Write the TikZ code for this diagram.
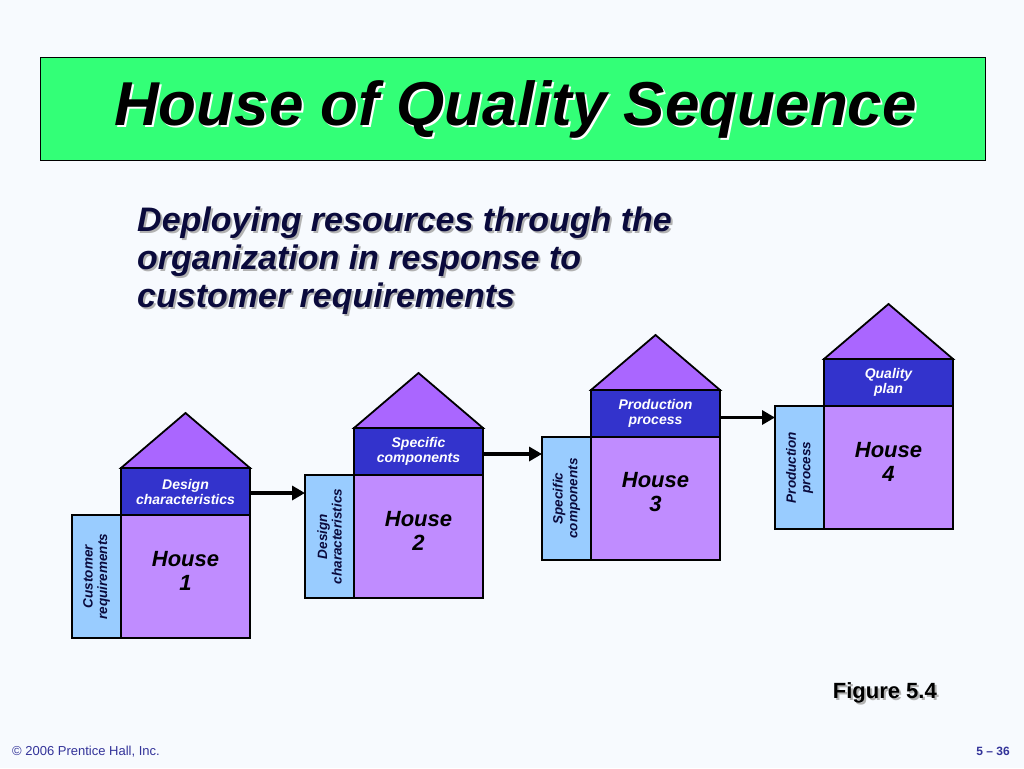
\documentclass[tikz,border=0pt]{standalone}
\usepackage{fontspec}
\setmainfont{Liberation Sans}
\usetikzlibrary{arrows.meta,calc}
\definecolor{bg}{RGB}{247,250,254}
\definecolor{titlegreen}{RGB}{51,255,119}
\definecolor{roofc}{RGB}{170,102,255}
\definecolor{bandc}{RGB}{51,51,204}
\definecolor{mainc}{RGB}{192,140,255}
\definecolor{sidec}{RGB}{153,204,255}
\definecolor{navy}{RGB}{10,10,60}
\definecolor{footc}{RGB}{51,51,153}
\newcommand\qhouse[5]{%
  \node[sidebox] (s#1) at (#2,#3) {};
  \node[mainbox] (m#1) at (s#1.north east) {};
  \node[bandbox] (b#1) at (m#1.north west) {#4};
  \draw[roof] (b#1.north west) -- ($(b#1.north)+(0,55pt)$) -- (b#1.north east) -- cycle;
  \node[sidetext] (t#1) at (s#1.center) {#5};
  \node[housetext] (h#1) at ($(m#1.center)+(0,6pt)$) {House\\#1};
}
\begin{document}
\begin{tikzpicture}[x=1pt,y=-1pt,
  sidebox/.style={draw=black, line width=1.8pt, fill=sidec, minimum width=49pt, minimum height=123pt, inner sep=0pt, outer sep=0pt, anchor=north west},
  mainbox/.style={draw=black, line width=1.8pt, fill=mainc, minimum width=129pt, minimum height=123pt, inner sep=0pt, outer sep=0pt, anchor=north west},
  bandbox/.style={draw=black, line width=1.8pt, fill=bandc, minimum width=129pt, minimum height=47pt, inner sep=0pt, outer sep=0pt, anchor=south west, text=white, align=center, font=\fontsize{14}{15}\selectfont\bfseries\itshape},
  roof/.style={draw=black, line width=1.8pt, fill=roofc, line join=miter},
  sidetext/.style={rotate=90, align=center, text=navy, inner sep=0pt, font=\fontsize{13.5}{14.5}\selectfont\bfseries\itshape},
  housetext/.style={align=center, text=black, inner sep=0pt, font=\fontsize{22}{24}\selectfont\bfseries\itshape},
  arr/.style={-{Triangle[length=13pt,width=14pt]}, line width=3.5pt, black}
]
\useasboundingbox (0,0) rectangle (1024,768);
\fill[bg] (0,0) rectangle (1024,768);
% title
\node[draw=black, line width=1pt, fill=titlegreen, minimum width=945pt, minimum height=103pt, anchor=north west, inner sep=0pt] (tbox) at (40,57) {};
\node[text=white, font=\fontsize{62}{64}\selectfont\bfseries\itshape] (tsh) at ($(tbox.center)+(4.5pt,-2.5pt)$) {House of Quality Sequence};
\node[text=black, font=\fontsize{62}{64}\selectfont\bfseries\itshape] (title) at ($(tbox.center)+(2.5pt,-0.5pt)$) {House of Quality Sequence};
% subtitle
\node[anchor=north west, align=left, text=gray!60, inner sep=0pt, font=\fontsize{34}{38}\selectfont\bfseries\itshape] (subsh) at (139,209) {Deploying resources through the\\organization in response to\\customer requirements};
\node[anchor=north west, align=left, text=navy, inner sep=0pt, font=\fontsize{34}{38}\selectfont\bfseries\itshape] (sub) at (137,207) {Deploying resources through the\\organization in response to\\customer requirements};
% houses
\qhouse{1}{72}{515}{Design\\characteristics}{Customer\\requirements}
\qhouse{2}{305}{475}{Specific\\components}{Design\\characteristics}
\qhouse{3}{542}{437}{Production\\process}{Specific\\components}
\qhouse{4}{775}{406}{Quality\\plan}{Production\\process}
% arrows
\coordinate (a1) at ([yshift=-1.5pt]b1.east);
\coordinate (a2) at ([yshift=-2.5pt]b2.east);
\coordinate (a3) at ([yshift=-4pt]b3.east);
\draw[arr] (a1) -- (a1 -| s2.west);
\draw[arr] (a2) -- (a2 -| s3.west);
\draw[arr] (a3) -- (a3 -| s4.west);
% figure label
\node[anchor=base east, text=gray!60, inner sep=0pt, font=\fontsize{22}{24}\selectfont\bfseries] (figsh) at (939,700) {Figure 5.4};
\node[anchor=base east, text=black, inner sep=0pt, font=\fontsize{22}{24}\selectfont\bfseries] (fig) at (937,698) {Figure 5.4};
% footer
\node[anchor=base west, text=footc, inner sep=0pt, font=\fontsize{13}{14}\selectfont] (foot) at (12,755) {© 2006 Prentice Hall, Inc.};
\node[anchor=base east, text=footc, inner sep=0pt, font=\fontsize{12}{14}\selectfont\bfseries] (page) at (1010,755) {5 – 36};
\end{tikzpicture}
\end{document}
